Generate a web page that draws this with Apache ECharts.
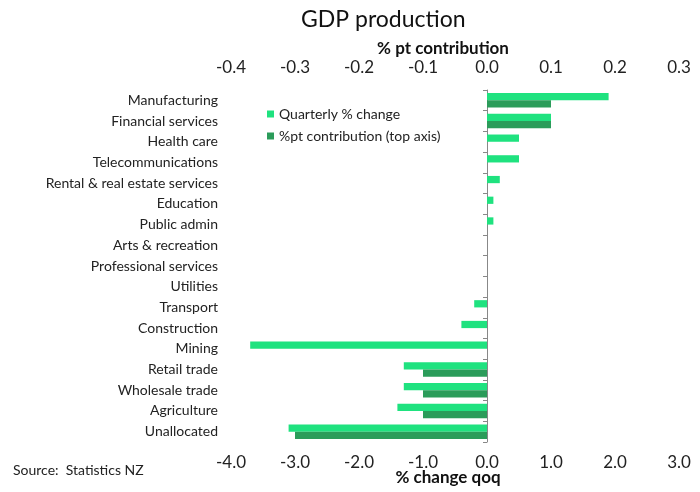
<!DOCTYPE html>
<html><head><meta charset="utf-8">
<script src="https://cdn.jsdelivr.net/npm/echarts@6/dist/echarts.min.js"></script>
<style>html,body{margin:0;padding:0;background:#fff}#c{width:700px;height:492px}</style>
</head><body><div id="c"></div>
<script>
const categories = ["Manufacturing","Financial services","Health care","Telecommunications","Rental & real estate services","Education","Public admin","Arts & recreation","Professional services","Utilities","Transport","Construction","Mining","Retail trade","Wholesale trade","Agriculture","Unallocated"];
const quarterlyChange = [1.9,1.0,0.5,0.5,0.2,0.1,0.1,0,0,0,-0.2,-0.4,-3.7,-1.3,-1.3,-1.4,-3.1];
const ptContribution = [0.1,0.1,0,0,0,0,0,0,0,0,0,0,0,-0.1,-0.1,-0.1,-0.3];
const bottomTicks = {min:-4, max:3, interval:1};
const topTicks = {min:-0.4, max:0.3, interval:0.1};

const FONT = "Lato";
const chart = echarts.init(document.getElementById('c'));
chart.setOption({
  animation:false,
  textStyle:{fontFamily:FONT,color:'#222'},
  title:{text:'GDP production',left:296,top:3,textStyle:{fontFamily:FONT,fontSize:23,fontWeight:'normal',color:'#111'}},
  graphic:[{type:'text',left:13,top:463,style:{text:'Source:  Statistics NZ',font:'14px '+FONT,fill:'#222'}}],
  legend:{orient:'vertical',left:262,top:102,itemWidth:7,itemHeight:7,itemGap:8,icon:'rect',
    textStyle:{fontFamily:FONT,fontSize:14,color:'#222'},
    data:['Quarterly % change','%pt contribution (top axis)']},
  grid:{left:231,right:21,top:90,bottom:50,outerBoundsMode:'none',containLabel:false},
  xAxis:[
    {type:'value',position:'bottom',min:bottomTicks.min,max:bottomTicks.max,interval:bottomTicks.interval,
     name:'% change qoq',nameLocation:'middle',nameGap:27,nameMoveOverlap:false,
     nameTextStyle:{fontFamily:FONT,fontSize:17,fontWeight:'bold',color:'#111',padding:[0,14,0,0]},
     axisLine:{onZero:false,lineStyle:{color:'#aaa'}},axisTick:{inside:true,length:5,lineStyle:{color:'#aaa'}},
     splitLine:{show:false},
     axisLabel:{fontSize:17,color:'#222',margin:12,formatter:v=>v.toFixed(1)}},
    {type:'value',position:'top',min:topTicks.min,max:topTicks.max,interval:topTicks.interval,
     name:'% pt contribution',nameLocation:'middle',nameGap:33,nameMoveOverlap:false,
     nameTextStyle:{fontFamily:FONT,fontSize:17,fontWeight:'bold',color:'#111',padding:[0,24,0,0]},
     axisLine:{onZero:false,lineStyle:{color:'#aaa'}},axisTick:{inside:true,length:5,lineStyle:{color:'#aaa'}},
     splitLine:{show:false},
     axisLabel:{fontSize:17,color:'#222',margin:14,formatter:v=>v.toFixed(1)}}
  ],
  yAxis:[
    {type:'category',inverse:true,data:categories,position:'left',
     axisLine:{show:false},axisTick:{show:false},
     axisLabel:{fontSize:14,color:'#222',margin:13}},
    {type:'category',inverse:true,data:categories,position:'left',
     axisLine:{onZero:true,onZeroAxisIndex:0,lineStyle:{color:'#888'}},
     axisTick:{show:true,length:4,lineStyle:{color:'#888'}},
     axisLabel:{show:false}}
  ],
  series:[
    {name:'Quarterly % change',type:'bar',xAxisIndex:0,yAxisIndex:0,data:quarterlyChange,
     itemStyle:{color:'#1fe27f'},barGap:'0%',barCategoryGap:'30%'},
    {name:'%pt contribution (top axis)',type:'bar',xAxisIndex:1,yAxisIndex:0,data:ptContribution,
     itemStyle:{color:'#2b9c5a'},barGap:'0%',barCategoryGap:'30%'}
  ]
});
</script></body></html>
